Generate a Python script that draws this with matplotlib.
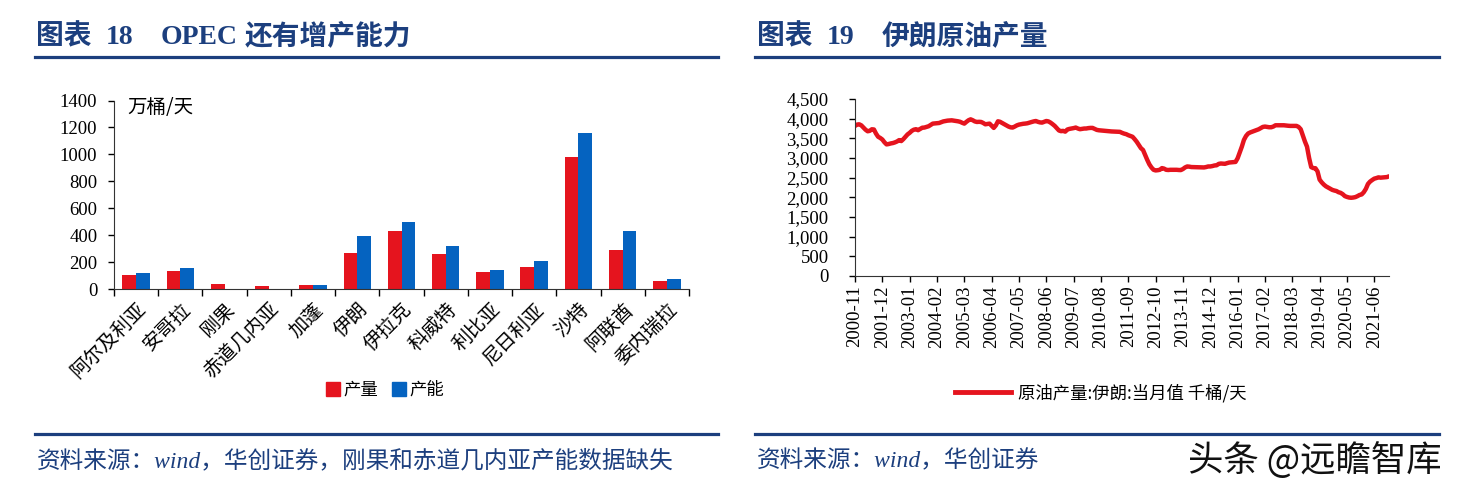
import numpy as np
import pandas as pd
import matplotlib
matplotlib.use("Agg")
import matplotlib.pyplot as plt
from matplotlib.lines import Line2D
from matplotlib.patches import Patch

# ---- data: OPEC production vs capacity (万桶/天)
countries = ["阿尔及利亚", "安哥拉", "刚果", "赤道几内亚", "加蓬", "伊朗", "伊拉克",
             "科威特", "利比亚", "尼日利亚", "沙特", "阿联酋", "委内瑞拉"]
production = [105, 130, 36, 20, 30, 265, 428, 260, 125, 167, 982, 293, 62]
capacity = [120, 157, np.nan, np.nan, 31, 397, 494, 321, 142, 210, 1162, 433, 71]
bar_yticks = [0, 200, 400, 600, 800, 1000, 1200, 1400]

# ---- data: Iran crude output (千桶/天), monthly from 2000-11
iran_start = "2000-11"
iran_output = [
    3815, 3850,
    3857, 3830, 3775, 3720, 3680, 3690, 3730, 3725, 3620, 3540, 3510, 3470,
    3400, 3346, 3355, 3370, 3380, 3397, 3420, 3455, 3430, 3480, 3540, 3600,
    3640, 3690, 3720, 3732, 3707, 3740, 3770, 3774, 3790, 3807, 3840, 3874,
    3880, 3885, 3890, 3910, 3930, 3941, 3950, 3955, 3958, 3950, 3940, 3933,
    3920, 3895, 3874, 3920, 3960, 3983, 3960, 3930, 3916, 3920, 3916, 3890,
    3857, 3865, 3874, 3820, 3765, 3830, 3933, 3920, 3890, 3857, 3830, 3800,
    3780, 3774, 3800, 3830, 3849, 3860, 3870, 3875, 3883, 3900, 3915, 3930,
    3941, 3920, 3905, 3900, 3920, 3941, 3930, 3900, 3860, 3816, 3760, 3700,
    3682, 3690, 3670, 3724, 3740, 3749, 3760, 3774, 3750, 3732, 3740, 3749,
    3750, 3760, 3765, 3765, 3740, 3715, 3705, 3700, 3695, 3690, 3685, 3680,
    3675, 3673, 3673, 3668, 3665, 3640, 3620, 3606, 3580, 3560, 3540, 3480,
    3413, 3330, 3250, 3204, 3080, 2953, 2840, 2760, 2700, 2684, 2690, 2700,
    2743, 2730, 2700, 2695, 2700, 2700, 2700, 2700, 2695, 2693, 2720, 2760,
    2785, 2780, 2770, 2768, 2765, 2762, 2760, 2760, 2760, 2770, 2785, 2785,
    2795, 2810, 2815, 2850, 2860, 2855, 2852, 2870, 2885, 2890, 2894, 2900,
    2994, 3140, 3288, 3460, 3560, 3623, 3650, 3670, 3690, 3710, 3730, 3760,
    3790, 3799, 3790, 3782, 3782, 3800, 3832, 3832, 3830, 3832, 3832, 3825,
    3820, 3816, 3816, 3816, 3816, 3790, 3732, 3580, 3420, 3288, 3000, 2768,
    2743, 2740, 2659, 2450, 2380, 2324, 2280, 2250, 2220, 2190, 2173, 2160,
    2130, 2114, 2080, 2031, 2010, 1995, 1989, 1995, 2006, 2030, 2060, 2073,
    2130, 2215, 2340, 2400, 2440, 2475, 2490, 2508, 2500, 2505, 2508, 2515,
    2534,
]
line_yticks = [0, 500, 1000, 1500, 2000, 2500, 3000, 3500, 4000, 4500]
tick_step = 13

RED = "#E5141E"
BLUE = "#0563C0"
NAVY = "#1C3F7E"
SERIF_CJK = ["Liberation Serif", "Noto Sans CJK SC"]
CJK = ["Noto Sans CJK SC", "DejaVu Sans"]

W, H = 1469, 493
fig = plt.figure(figsize=(W / 100, H / 100), dpi=100)


def fx(px):
    return px / W


def fy(py):
    return 1 - py / H


def hrule(x0, x1, y):
    fig.add_artist(Line2D([fx(x0), fx(x1)], [fy(y), fy(y)], transform=fig.transFigure,
                          color=NAVY, lw=2.3))


# ---- titles and rules
for parts in [[(36, "图表"), (106, "18"), (161, "OPEC"), (245, "还有增产能力")],
              [(757, "图表"), (827, "19"), (882, "伊朗原油产量")]]:
    for x, s in parts:
        fig.text(fx(x), fy(37), s, family=SERIF_CJK, fontsize=20, fontweight="bold",
                 color=NAVY, ha="left", va="center")
hrule(35, 718, 57)
hrule(755, 1439, 57)
hrule(35, 718, 434)
hrule(755, 1439, 434)
fig.text(fx(37), fy(461), "资料来源：wind，华创证券，刚果和赤道几内亚产能数据缺失",
         family=SERIF_CJK, fontsize=17, style="italic", color=NAVY, ha="left", va="center")
fig.text(fx(757), fy(461), "资料来源：wind，华创证券",
         family=SERIF_CJK, fontsize=17, style="italic", color=NAVY, ha="left", va="center")
fig.text(fx(1188), fy(461), "头条 @远瞻智库", family=CJK, fontsize=25.5,
         color="#111111", ha="left", va="center")

# ---- left: bar chart
ax1 = fig.add_axes([fx(114), fy(289), fx(689 - 114), (289 - 100.5) / H])
x = np.arange(len(countries))
bw = 0.31
ax1.bar(x - bw / 2, production, width=bw, color=RED, zorder=2)
ax1.bar(x + bw / 2, capacity, width=bw, color=BLUE, zorder=2)
ax1.set_xlim(-0.5, len(countries) - 0.5)
ax1.set_ylim(0, 1400)
ax1.set_yticks(bar_yticks)
ax1.set_yticklabels([str(v) for v in bar_yticks], family="Liberation Serif", fontsize=13.5)
ax1.set_xticks(x)
ax1.set_xticklabels(countries, family=CJK, fontsize=14, rotation=45,
                    ha="right", va="top", rotation_mode="anchor")
ax1.set_xticks(np.arange(-0.5, len(countries)), minor=True)
ax1.tick_params(axis="x", which="major", length=0, pad=7)
ax1.tick_params(axis="x", which="minor", length=5, direction="out", width=1)
ax1.tick_params(axis="y", length=4, direction="out", width=1, pad=8)
for s in ["top", "right"]:
    ax1.spines[s].set_visible(False)
for s in ["left", "bottom"]:
    ax1.spines[s].set_color("#333333")
ax1.text(0.024, 0.965, "万桶/天", transform=ax1.transAxes, family=CJK, fontsize=14,
         ha="left", va="center")
fig.legend(handles=[Patch(color=RED, label="产量"), Patch(color=BLUE, label="产能")],
           loc="center", bbox_to_anchor=(fx(385), fy(390)), ncol=2, frameon=False,
           prop={"family": CJK, "size": 12.5}, handlelength=0.8, handleheight=0.8,
           handletextpad=0.2, columnspacing=0.8)

# ---- right: line chart
dates = pd.date_range(iran_start, periods=len(iran_output), freq="MS")
ax2 = fig.add_axes([fx(855), fy(276), fx(1389 - 855), (276 - 99) / H])
xi = np.arange(len(iran_output))
ax2.plot(xi, iran_output, color=RED, lw=3.2, solid_capstyle="round")
ax2.set_xlim(0, len(iran_output) - 1)
ax2.set_ylim(0, 4500)
ax2.set_yticks(line_yticks)
ax2.set_yticklabels([f"{v:,}" for v in line_yticks], family="Liberation Serif", fontsize=13.5)
tpos = xi[::tick_step]
ax2.set_xticks(tpos)
ax2.set_xticklabels([dates[i].strftime("%Y-%m") for i in tpos], family="Liberation Serif",
                    fontsize=13.5, rotation=90)
ax2.tick_params(axis="x", length=4, direction="out", width=1, pad=3)
ax2.tick_params(axis="y", length=4, direction="out", width=1, pad=15)
for s in ["top", "right"]:
    ax2.spines[s].set_visible(False)
for s in ["left", "bottom"]:
    ax2.spines[s].set_color("#333333")
fig.legend(handles=[Line2D([], [], color=RED, lw=3.5, label="原油产量:伊朗:当月值 千桶/天")],
           loc="center", bbox_to_anchor=(fx(1101), fy(393)), frameon=False,
           prop={"family": CJK, "size": 12.5}, handlelength=3.2, handletextpad=0.4)

fig.savefig("out.png", dpi=100)
